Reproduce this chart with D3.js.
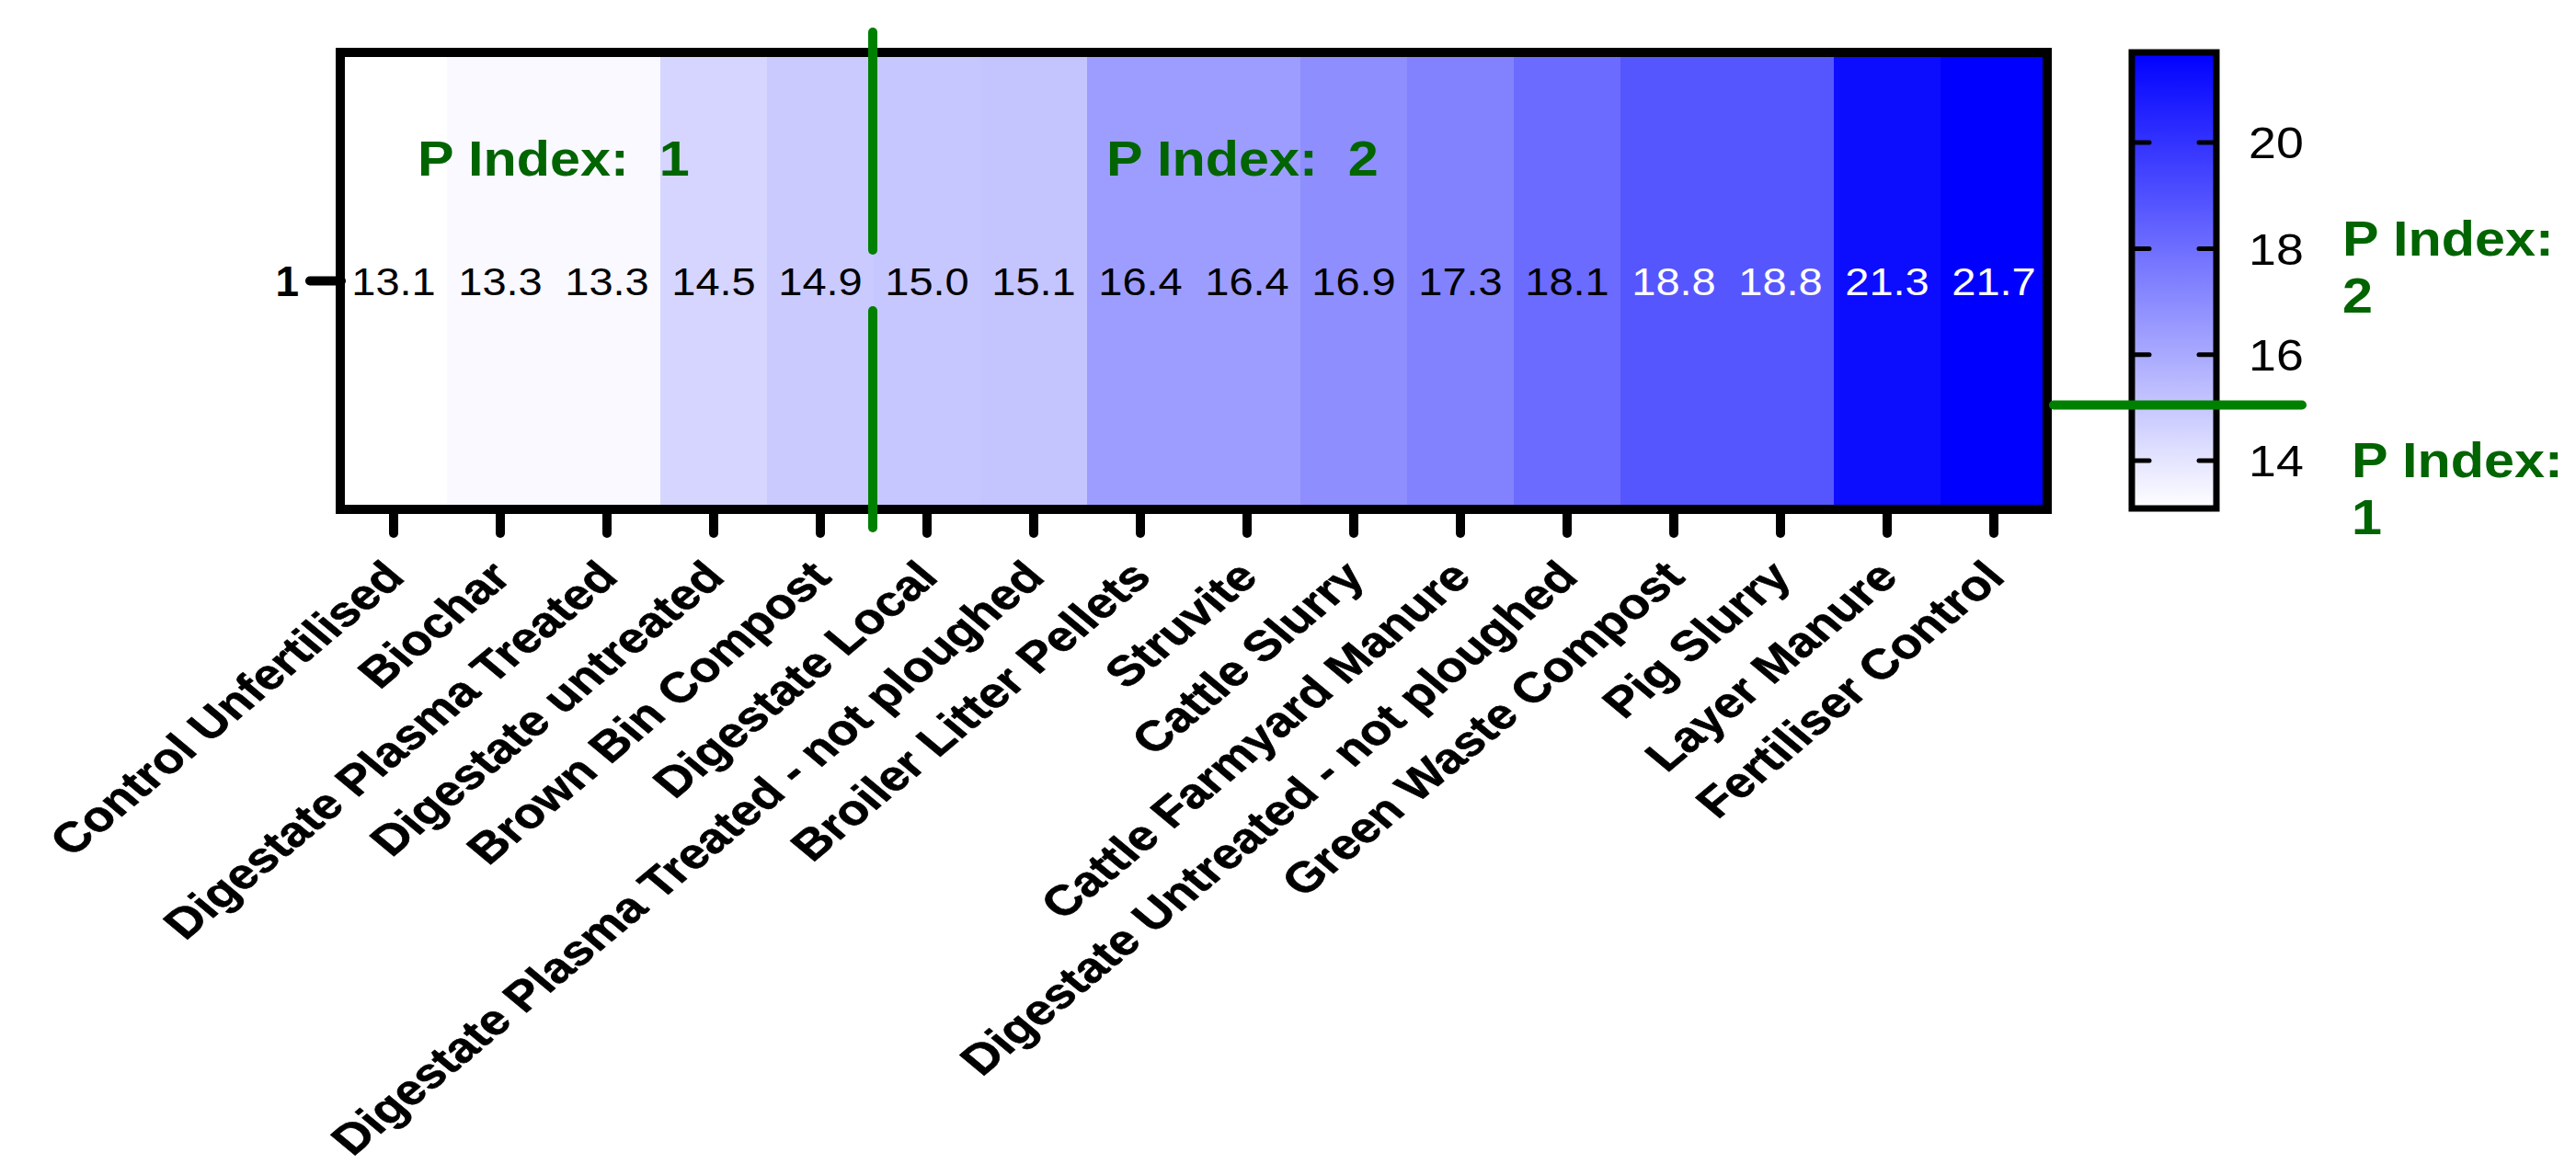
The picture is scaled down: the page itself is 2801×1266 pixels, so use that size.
<!DOCTYPE html>
<html><head><meta charset="utf-8">
<script src="https://cdn.jsdelivr.net/npm/d3@7"></script>
<style>
body{margin:0;background:#fff;}
svg text{font-family:"Liberation Sans",Arial,Helvetica,sans-serif;}
</style>
</head><body>
<svg id="chart" width="2801" height="1266"></svg>
<script>
const categories = ["Control Unfertilised","Biochar","Digestate Plasma Treated","Digestate untreated","Brown Bin Compost","Digestate Local","Digestate Plasma Treated - not ploughed","Broiler Litter Pellets","Struvite","Cattle Slurry","Cattle Farmyard Manure","Digestate Untreated - not ploughed","Green Waste Compost","Pig Slurry","Layer Manure","Fertiliser Control"];
const values = [13.1,13.3,13.3,14.5,14.9,15.0,15.1,16.4,16.4,16.9,17.3,18.1,18.8,18.8,21.3,21.7];
const pIndexClass = [1,1,1,1,1,2,2,2,2,2,2,2,2,2,2,2];
const rowLabels = ["1"];
const colorTicks = [14,16,18,20];
const colorDomain = [13.1,21.7];
const pIndexThreshold = 15.05;
const pIndexInside = ["P Index:  1","P Index:  2"];
const pIndexSide = [["P Index:","2"],["P Index:","1"]];

const svg = d3.select("#chart");
const SX = 1.12;            // horizontal text stretch of the original figure
const green = "#008000", darkGreen = "#006400";

const x = d3.scaleBand().domain(categories).range([370, 2226]).padding(0);
const y = d3.scaleBand().domain(rowLabels).range([57, 554]).padding(0);
const color = d3.scaleLinear().domain(colorDomain).range(["#ffffff","#0000ff"]);
const cb = d3.scaleLinear().domain(colorDomain).range([553, 57]);

// cells
svg.append("g").selectAll("rect").data(values).join("rect")
  .attr("x", (d,i)=>x(categories[i])).attr("y", y(rowLabels[0]))
  .attr("width", x.bandwidth()+0.5).attr("height", y.bandwidth())
  .attr("fill", d=>color(d)).attr("shape-rendering","crispEdges");

// cell values
svg.append("g").selectAll("text").data(values).join("text")
  .attr("transform",(d,i)=>`translate(${x(categories[i])+x.bandwidth()/2},${y(rowLabels[0])+y.bandwidth()/2}) scale(${SX},1)`)
  .attr("text-anchor","middle").attr("dy","0.36em")
  .attr("font-size",42).attr("fill", d=> d>18.5 ? "#ffffff" : "#000000")
  .text(d=>d.toFixed(1));

// x axis
const xAxis = svg.append("g").attr("transform","translate(0,554)")
  .call(d3.axisBottom(x).tickSize(26).tickSizeOuter(0));
xAxis.select(".domain").remove();
xAxis.selectAll(".tick line").attr("stroke","#000").attr("stroke-width",10).attr("stroke-linecap","round");
xAxis.selectAll(".tick text")
  .attr("transform","translate(14,76) scale(1.2,1) rotate(-45)")
  .attr("x",0).attr("y",0).attr("dy","0").attr("text-anchor","end")
  .attr("font-size",46).attr("font-weight","bold").attr("fill","#000")
  .attr("stroke","#000").attr("stroke-width",0.6);

// y axis
const yAxis = svg.append("g").attr("transform","translate(371,0)")
  .call(d3.axisLeft(y).tickSize(34).tickSizeOuter(0));
yAxis.select(".domain").remove();
yAxis.selectAll(".tick line").attr("stroke","#000").attr("stroke-width",10).attr("stroke-linecap","round");
yAxis.selectAll(".tick text").attr("x",-46).attr("dy","0.36em")
  .attr("font-size",46).attr("font-weight","bold").attr("fill","#000");

// frame
svg.append("rect").attr("x",370).attr("y",57).attr("width",1856).attr("height",497)
  .attr("fill","none").attr("stroke","#000").attr("stroke-width",10);

// P Index divider (vertical)
const divIdx = pIndexClass.findIndex(c=>c===2);
const divX = x(categories[divIdx]) - 1;
svg.append("line").attr("x1",divX).attr("x2",divX).attr("y1",35).attr("y2",272)
  .attr("stroke",green).attr("stroke-width",10).attr("stroke-linecap","round");
svg.append("line").attr("x1",divX).attr("x2",divX).attr("y1",338).attr("y2",574)
  .attr("stroke",green).attr("stroke-width",10).attr("stroke-linecap","round");

// inside P Index labels
const insideX = [454, 1203];
svg.append("g").selectAll("text").data(pIndexInside).join("text")
  .attr("transform",(d,i)=>`translate(${insideX[i]},191) scale(${SX},1)`)
  .attr("font-size",53).attr("font-weight","bold").attr("fill",darkGreen)
  .style("white-space","pre").attr("xml:space","preserve")
  .text(d=>d);

// colour bar
const defs = svg.append("defs");
const grad = defs.append("linearGradient").attr("id","cbgrad")
  .attr("x1",0).attr("y1",1).attr("x2",0).attr("y2",0);
d3.range(0,1.0001,0.1).forEach(t=>{
  grad.append("stop").attr("offset",t).attr("stop-color",color(colorDomain[0]+t*(colorDomain[1]-colorDomain[0])));
});
const cbX0 = 2318, cbX1 = 2410;
svg.append("rect").attr("x",cbX0).attr("y",cb(colorDomain[1])).attr("width",cbX1-cbX0)
  .attr("height",cb(colorDomain[0])-cb(colorDomain[1])).attr("fill","url(#cbgrad)");
const cbTicks = svg.append("g");
cbTicks.selectAll("line.l").data(colorTicks).join("line").attr("class","l")
  .attr("x1",cbX0).attr("x2",cbX0+19).attr("y1",d=>cb(d)).attr("y2",d=>cb(d))
  .attr("stroke","#000").attr("stroke-width",5).attr("stroke-linecap","round");
cbTicks.selectAll("line.r").data(colorTicks).join("line").attr("class","r")
  .attr("x1",cbX1-19).attr("x2",cbX1).attr("y1",d=>cb(d)).attr("y2",d=>cb(d))
  .attr("stroke","#000").attr("stroke-width",5).attr("stroke-linecap","round");
cbTicks.selectAll("text").data(colorTicks).join("text")
  .attr("transform",d=>`translate(2445,${cb(d)}) scale(${SX},1)`)
  .attr("dy","0.36em").attr("font-size",48).attr("fill","#000").text(d=>d);
svg.append("rect").attr("x",cbX0).attr("y",cb(colorDomain[1])).attr("width",cbX1-cbX0)
  .attr("height",cb(colorDomain[0])-cb(colorDomain[1])).attr("fill","none")
  .attr("stroke","#000").attr("stroke-width",7);

// threshold line (horizontal)
const thY = cb(pIndexThreshold);
svg.append("line").attr("x1",2233).attr("x2",2503).attr("y1",thY).attr("y2",thY)
  .attr("stroke",green).attr("stroke-width",10).attr("stroke-linecap","round");

// side P Index labels
const sidePos = [[2547,278],[2557,519]];
pIndexSide.forEach((lines,i)=>{
  lines.forEach((t,j)=>{
    svg.append("text")
      .attr("transform",`translate(${sidePos[i][0]},${sidePos[i][1]+j*62}) scale(${SX},1)`)
      .attr("font-size",53).attr("font-weight","bold").attr("fill",darkGreen).text(t);
  });
});
</script>
</body></html>
